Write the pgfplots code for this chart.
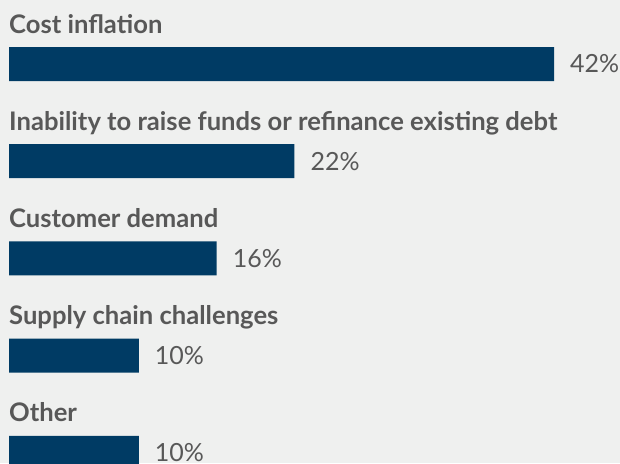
\documentclass[border=0pt]{standalone}
\usepackage{pgfplots}
\pgfplotsset{compat=1.18}
\usepackage{fontspec}
\setmainfont{Lato}
\definecolor{bgpanel}{RGB}{239,240,239}
\definecolor{barnavy}{RGB}{0,59,100}
\definecolor{labelgray}{RGB}{88,88,88}
\begin{document}
\begin{tikzpicture}
\fill[bgpanel] (0,0) rectangle (620pt,463pt);
\useasboundingbox (0,0) rectangle (620pt,463pt);
\begin{scope}
\clip (0,0) rectangle (620pt,463pt);
\begin{axis}[
    at={(9pt,447.6pt)}, anchor=north west,
    x=12.976pt, y=97.2pt, y dir=reverse,
    xmin=0, xmax=47, ymin=-0.5, ymax=4.5,
    xbar, bar width=34pt, bar shift=0pt,
    axis line style={draw=none},
    major tick length=0pt,
    xtick=\empty,
    ytick={0,1,2,3,4},
    yticklabels={Cost inflation,Inability to raise funds or refinance existing debt,Customer demand,Supply chain challenges,Other},
    yticklabel style={anchor=base west, inner sep=0pt, yshift=31pt,
        font=\fontsize{25.6}{28}\selectfont\bfseries, text=labelgray},
    /pgf/number format/assume math mode=true,
    nodes near coords={\pgfmathprintnumber{\pgfplotspointmeta}\%},
    nodes near coords style={anchor=west, inner sep=0pt, xshift=16pt,
        font=\fontsize{25}{28}\selectfont, text=labelgray},
    clip=false,
]
\addplot[draw=none, fill=barnavy] coordinates {(42,0) (22,1) (16,2) (10,3) (10,4)};
\end{axis}
\end{scope}
\end{tikzpicture}
\end{document}
